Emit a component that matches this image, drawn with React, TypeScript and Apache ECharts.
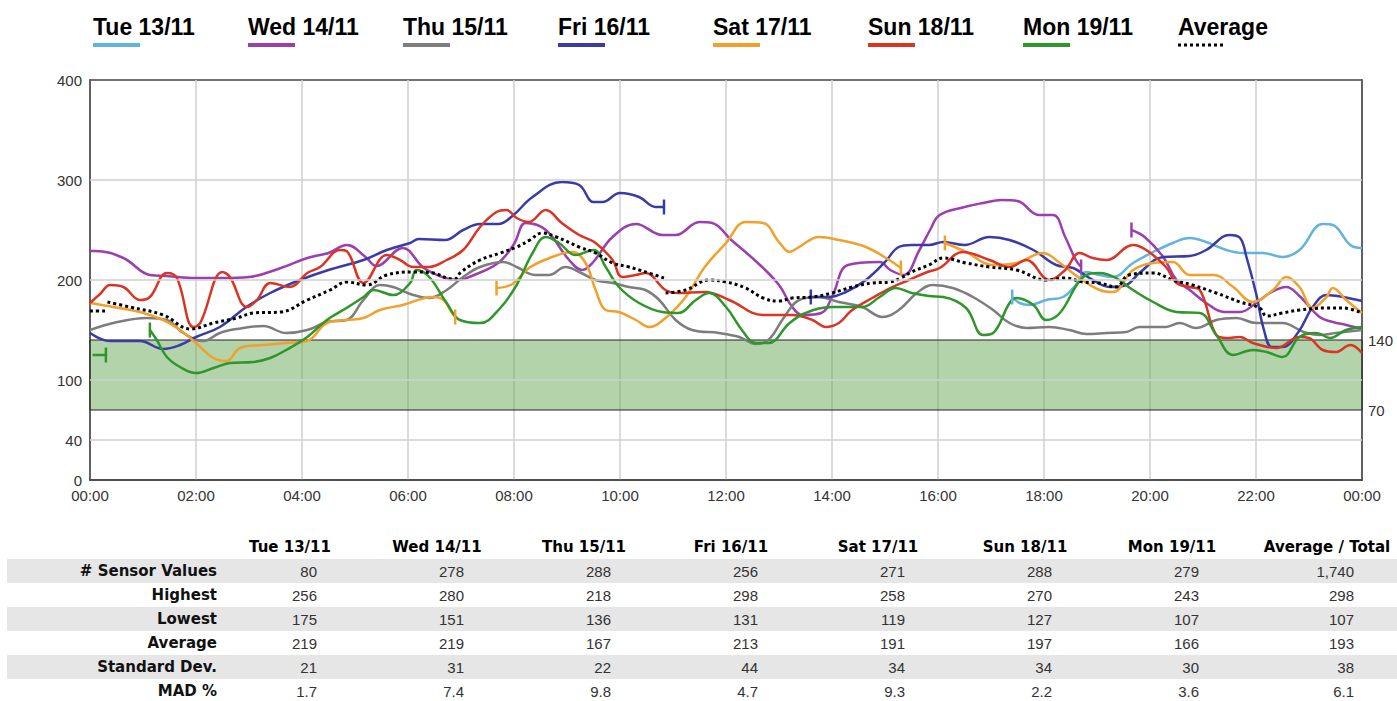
import React, { useEffect, useRef } from 'react';
import * as echarts from 'echarts';

// ---------- data ----------
const dayNames = ['Tue 13/11', 'Wed 14/11', 'Thu 15/11', 'Fri 16/11', 'Sat 17/11', 'Sun 18/11', 'Mon 19/11'];
const dayColors = ['#62b4dc', '#9c3fae', '#7d7d7d', '#3b3ba8', '#f2a02c', '#dc3424', '#2e962a'];
const averageName = 'Average';

const leftLabels = [0, 40, 100, 200, 300, 400];
const rightLabels = [70, 140];
const gridValues = [40, 100, 200, 300];
const targetRange = [70, 140];

// [hour, value]; null value = sensor gap
const tue = [[17.4, 183], [17.54, 177], [17.73, 175], [18.04, 180], [18.36, 183], [18.6, 195], [18.8, 208], [19.05, 205], [19.3, 203], [19.68, 217], [20.06, 228], [20.43, 237], [20.75, 242], [21.06, 238], [21.44, 230], [21.75, 227], [22.13, 227], [22.5, 223], [22.82, 230], [23.26, 256], [23.45, 255], [23.78, 235], [24, 232]];

const wed = [[0, 229], [0.1, 229], [0.63, 222], [1.13, 205], [1.45, 204], [2.0, 202], [2.5, 202], [3.0, 203], [3.6, 212], [4.1, 222], [4.5, 227], [4.85, 235], [5.2, 223], [5.4, 214], [5.9, 232], [6.3, 212], [6.7, 202], [6.95, 200], [7.2, 204], [7.7, 217], [8.0, 236], [8.22, 257], [8.6, 250], [9.04, 220], [9.29, 210], [9.48, 217], [9.86, 243], [10.3, 256], [10.8, 245], [11.05, 245], [11.5, 258], [11.74, 257], [12.1, 240], [12.6, 217], [13.0, 195], [13.25, 173], [13.45, 165], [13.8, 167], [14.0, 183], [14.3, 215], [14.9, 218], [15.1, 210], [15.35, 205], [15.65, 230], [15.85, 250], [16.03, 265], [16.5, 273], [16.85, 277], [17.2, 280], [17.5, 279], [17.9, 265], [18.17, 265], [18.4, 243], [18.6, 220], [18.7, 213], [19.2, null], [19.65, 250], [19.9, 243], [20.25, 223], [20.5, 200], [20.75, 190], [21.06, 177], [21.4, 168], [21.7, 168], [22.0, 177], [22.26, 187], [22.57, 193], [22.8, 185], [23.2, 163], [23.45, 158], [23.7, 155], [24, 151]];

const thu = [[0, 150], [0.44, 157], [1.07, 162], [1.45, 160], [1.76, 147], [2.14, 139], [2.45, 147], [2.77, 151], [3.27, 154], [3.7, 147], [4.1, 150], [4.47, 158], [4.84, 160], [5.16, 180], [5.47, 195], [5.72, 193], [6.1, 185], [6.4, 182], [6.73, 190], [7.04, 203], [7.36, 213], [7.8, 218], [8.05, 213], [8.4, 205], [8.66, 205], [8.97, 213], [9.23, 208], [9.54, 200], [9.86, 197], [10.17, 193], [10.48, 190], [10.74, 180], [11.05, 160], [11.36, 150], [11.87, 147], [12.25, 143], [12.56, 136], [12.8, 140], [13.1, 163], [13.38, 180], [13.75, 183], [14.13, 178], [14.57, 173], [14.95, 163], [15.26, 170], [15.6, 187], [15.9, 195], [16.28, 192], [16.66, 183], [17.04, 170], [17.35, 157], [17.67, 152], [18.1, 153], [18.48, 150], [18.8, 146], [19.18, 147], [19.55, 148], [19.8, 153], [20.3, 153], [20.56, 157], [20.87, 152], [21.25, 160], [21.63, 162], [22.0, 157], [22.5, 157], [22.9, 148], [23.2, 145], [23.5, 147], [24, 150]];

const fri = [[0, 147], [0.38, 139], [0.94, 139], [1.38, 131], [1.7, 135], [2.0, 143], [2.45, 153], [2.95, 173], [3.4, 187], [3.96, 200], [4.5, 210], [5.16, 220], [5.6, 230], [6.04, 237], [6.2, 241], [6.7, 240], [7.04, 250], [7.36, 256], [7.7, 256], [7.97, 264], [8.35, 283], [8.9, 298], [9.23, 295], [9.5, 278], [9.67, 278], [10.0, 287], [10.36, 283], [10.67, 273], [10.83, 273], [12.0, null], [13.6, 183], [13.94, 183], [14.26, 188], [14.64, 200], [15.0, 218], [15.26, 233], [15.5, 235], [15.83, 235], [16.1, 238], [16.5, 235], [16.97, 243], [17.35, 240], [17.8, 230], [18.23, 215], [18.55, 212], [18.86, 202], [19.24, 193], [19.55, 195], [19.8, 207], [20.25, 223], [20.75, 224], [21.06, 230], [21.5, 245], [21.7, 242], [21.82, 223], [22.0, 187], [22.15, 150], [22.3, 133], [22.5, 133], [22.8, 148], [23.07, 173], [23.33, 185], [23.64, 183], [24, 179]];

const sat = [[0, 177], [0.44, 173], [0.94, 168], [1.38, 160], [1.7, 150], [2.0, 137], [2.33, 122], [2.58, 119], [2.83, 132], [3.27, 135], [3.7, 137], [4.1, 139], [4.47, 157], [4.84, 160], [5.16, 162], [5.47, 170], [5.9, 175], [6.48, 183], [6.67, 180], [6.82, 168], [6.89, 163], [7.3, null], [7.67, 192], [7.97, 196], [8.28, 212], [8.72, 223], [9.1, 228], [9.35, 217], [9.54, 190], [9.73, 170], [9.98, 168], [10.3, 160], [10.55, 153], [10.86, 162], [11.24, 183], [11.6, 213], [12.0, 237], [12.37, 258], [12.7, 257], [13.0, 238], [13.2, 228], [13.38, 233], [13.75, 243], [14.13, 240], [14.64, 233], [15.08, 220], [15.3, 212], [15.7, null], [16.13, 237], [16.53, 228], [17.04, 215], [17.48, 217], [17.98, 227], [18.3, 217], [18.67, 202], [19.05, 190], [19.3, 188], [19.68, 210], [20.06, 217], [20.43, 218], [20.75, 205], [21.2, 205], [21.57, 193], [21.94, 178], [22.32, 190], [22.57, 203], [22.82, 193], [23.07, 172], [23.33, 183], [23.45, 192], [23.7, 180], [24, 167]];

const sun = [[0, 177], [0.19, 186], [0.38, 195], [0.63, 193], [0.94, 180], [1.13, 183], [1.45, 207], [1.64, 202], [1.95, 153], [2.08, 157], [2.5, 208], [2.64, 203], [2.96, 173], [3.15, 180], [3.4, 197], [3.77, 193], [4.1, 207], [4.34, 213], [4.72, 230], [4.84, 229], [5.16, 197], [5.6, 225], [5.85, 220], [6.1, 213], [6.4, 213], [6.73, 220], [7.04, 230], [7.36, 253], [7.67, 268], [7.86, 270], [8.05, 262], [8.28, 258], [8.6, 270], [8.9, 257], [9.23, 245], [9.54, 237], [9.86, 220], [10.04, 203], [10.3, 205], [10.48, 207], [10.86, 190], [11.1, 187], [11.6, 188], [12.06, 180], [12.7, 165], [13.25, 165], [13.63, 160], [13.88, 153], [14.13, 157], [14.38, 170], [14.76, 182], [15.14, 193], [15.45, 200], [15.8, 208], [16.03, 212], [16.47, 228], [16.97, 220], [17.35, 213], [17.67, 220], [18.1, 200], [18.4, 210], [18.67, 227], [18.92, 222], [19.18, 220], [19.68, 235], [19.93, 230], [20.3, 213], [20.5, 197], [20.75, 193], [20.94, 190], [21.25, 145], [21.44, 142], [21.7, 143], [21.94, 137], [22.38, 132], [22.82, 143], [23.0, 142], [23.26, 130], [23.5, 128], [23.78, 135], [24, 127]];

const mon = [[0.05, 125], [0.3, 125], [0.7, null], [1.13, 150], [1.26, 140], [1.45, 123], [1.7, 113], [2.0, 107], [2.33, 112], [2.64, 117], [3.08, 118], [3.4, 122], [3.7, 130], [4.1, 143], [4.47, 160], [4.84, 172], [5.16, 183], [5.35, 190], [5.72, 185], [6.04, 197], [6.16, 210], [6.4, 203], [6.73, 177], [6.98, 160], [7.36, 157], [7.74, 172], [8.05, 195], [8.35, 227], [8.6, 243], [8.85, 237], [9.16, 225], [9.5, 230], [9.73, 213], [9.98, 193], [10.36, 177], [10.8, 168], [11.1, 167], [11.43, 180], [11.68, 187], [12.0, 173], [12.3, 150], [12.56, 137], [12.8, 137], [13.2, 157], [13.5, 167], [14.0, 173], [14.57, 173], [14.9, 183], [15.2, 192], [15.5, 187], [15.83, 184], [16.1, 183], [16.53, 172], [16.85, 145], [17.04, 147], [17.35, 177], [17.48, 182], [17.8, 175], [18.04, 160], [18.3, 167], [18.74, 203], [19.05, 207], [19.36, 202], [19.68, 190], [20.06, 178], [20.5, 168], [20.94, 167], [21.25, 145], [21.57, 125], [21.94, 130], [22.2, 128], [22.5, 123], [22.82, 143], [23.14, 147], [23.4, 142], [23.7, 150], [24, 153]];

const avg = [[0, 169], [0.3, 169], [0.31, null], [0.33, 178], [0.75, 173], [1.38, 165], [1.9, 151], [2.33, 157], [2.77, 162], [3.08, 167], [3.6, 168], [4.1, 180], [4.53, 190], [4.84, 198], [5.22, 195], [5.6, 205], [6.1, 208], [6.48, 207], [6.73, 202], [6.88, 201], [7.0, 208], [7.36, 220], [7.74, 227], [8.05, 233], [8.3, 240], [8.53, 247], [8.8, 243], [9.23, 233], [9.54, 227], [9.86, 217], [10.17, 213], [10.48, 208], [10.83, 202], [10.84, null], [10.86, 187], [11.24, 190], [11.68, 200], [12.0, 198], [12.37, 192], [12.7, 182], [13.0, 179], [13.25, 182], [13.63, 183], [14.0, 187], [14.38, 193], [14.76, 197], [15.08, 198], [15.3, 202], [15.5, 208], [15.83, 215], [16.1, 222], [16.53, 217], [16.97, 213], [17.48, 210], [18.04, 200], [18.4, 202], [18.74, 198], [19.05, 197], [19.36, 193], [19.6, 205], [20.06, 207], [20.43, 200], [20.8, 195], [21.25, 187], [21.7, 178], [22.07, 172], [22.2, 164], [22.5, 167], [22.82, 170], [23.33, 172], [23.64, 172], [24, 167]];

const dayData = [tue, wed, thu, fri, sat, sun, mon];

// ---------- table ----------
const tableColumns = ['Tue 13/11', 'Wed 14/11', 'Thu 15/11', 'Fri 16/11', 'Sat 17/11', 'Sun 18/11', 'Mon 19/11', 'Average / Total'];
const tableRowLabels = ['# Sensor Values', 'Highest', 'Lowest', 'Average', 'Standard Dev.', 'MAD %'];
const sensorValues = ['80', '278', '288', '256', '271', '288', '279', '1,740'];
const highestValues = ['256', '280', '218', '298', '258', '270', '243', '298'];
const lowestValues = ['175', '151', '136', '131', '119', '127', '107', '107'];
const averageValues = ['219', '219', '167', '213', '191', '197', '166', '193'];
const stdDevValues = ['21', '31', '22', '44', '34', '34', '30', '38'];
const madValues = ['1.7', '7.4', '9.8', '4.7', '9.3', '2.2', '3.6', '6.1'];
const tableRows = [sensorValues, highestValues, lowestValues, averageValues, stdDevValues, madValues];

// ---------- helpers ----------
function toSeriesData(points: any[], caps: boolean) {
  return points.map((p, i) => {
    if (p[1] === null) return [p[0], '-'];
    if (!caps) return p;
    const prevGap = i === 0 ? p[0] > 0.2 : points[i - 1][1] === null;
    const nextGap = i === points.length - 1 ? p[0] < 23.8 : points[i + 1][1] === null;
    if (prevGap || nextGap) {
      return { value: p, symbol: 'rect', symbolSize: [2.5, 15] };
    }
    return p;
  });
}

const fmtHour = (h: number) => String(h % 24).padStart(2, '0') + ':00';

export default function App() {
  const ref = useRef<HTMLDivElement>(null);

  useEffect(() => {
    if (!ref.current) return;
    const chart = echarts.init(ref.current, undefined, { renderer: 'svg' });

    const series: any[] = [
      {
        name: 'grid-lines',
        type: 'line',
        data: [],
        z: 1,
        silent: true,
        markLine: {
          silent: true,
          symbol: ['none', 'none'],
          label: { show: false },
          lineStyle: { color: '#cfcfcf', width: 1.5, type: 'solid' },
          data: gridValues.map((v) => ({ yAxis: v })),
        },
      },
      {
        name: 'target',
        type: 'line',
        data: [],
        z: 1.5,
        silent: true,
        markArea: {
          silent: true,
          itemStyle: { color: 'rgba(104,168,86,0.5)', borderColor: '#222', borderWidth: 1 },
          data: [[{ yAxis: targetRange[0] }, { yAxis: targetRange[1] }]],
        },
      },
    ];

    dayNames.forEach((name, i) => {
      series.push({
        name,
        type: 'line',
        z: 3,
        smooth: 0.4,
        symbol: 'none',
        showSymbol: true,
        connectNulls: false,
        color: dayColors[i],
        itemStyle: { color: dayColors[i] },
        lineStyle: { color: dayColors[i], width: 2.5 },
        data: toSeriesData(dayData[i], true),
      });
    });

    series.push({
      name: averageName,
      type: 'line',
      z: 4,
      smooth: 0.4,
      symbol: 'none',
      showSymbol: false,
      connectNulls: false,
      color: '#000',
      lineStyle: { color: '#000', width: 3, type: [3, 3] },
      data: toSeriesData(avg, false),
    });

    const graphics: any[] = [];
    // legend
    const legendNames = [...dayNames, averageName];
    legendNames.forEach((name, i) => {
      const x = 93 + i * 155;
      graphics.push({
        type: 'text',
        x,
        y: 27,
        style: {
          text: name,
          fill: '#000',
          fontFamily: 'Liberation Sans',
          fontWeight: 'bold',
          fontSize: 23,
          align: 'left',
          verticalAlign: 'middle',
        },
      });
      if (i < dayNames.length) {
        graphics.push({ type: 'rect', shape: { x, y: 43, width: 47, height: 4 }, style: { fill: dayColors[i] } });
      } else {
        graphics.push({
          type: 'line',
          shape: { x1: x, y1: 45, x2: x + 47, y2: 45 },
          style: { stroke: '#000', lineWidth: 3, lineDash: [3, 3] },
        });
      }
    });

    // table
    const colCenters = [290, 437, 584, 731, 878, 1025, 1172, 1327];
    const headerY = 547;
    const rowY0 = 571;
    const rowH = 24;
    tableRowLabels.forEach((_, r) => {
      if (r % 2 === 0) {
        graphics.push({
          type: 'rect',
          shape: { x: 7, y: rowY0 + r * rowH - rowH / 2, width: 1390, height: rowH },
          style: { fill: '#e6e6e6' },
        });
      }
    });
    tableColumns.forEach((c, j) => {
      graphics.push({
        type: 'text',
        x: colCenters[j],
        y: headerY,
        style: {
          text: c,
          fill: '#000',
          fontFamily: 'DejaVu Sans',
          fontWeight: 'bold',
          fontSize: 15,
          align: 'center',
          verticalAlign: 'middle',
        },
      });
    });
    tableRowLabels.forEach((label, r) => {
      const y = rowY0 + r * rowH;
      graphics.push({
        type: 'text',
        x: 217,
        y,
        style: {
          text: label,
          fill: '#111',
          fontFamily: 'DejaVu Sans',
          fontWeight: 'bold',
          fontSize: 15,
          align: 'right',
          verticalAlign: 'middle',
        },
      });
      tableRows[r].forEach((val, j) => {
        graphics.push({
          type: 'text',
          x: colCenters[j] + 27,
          y,
          style: {
            text: val,
            fill: '#333',
            fontFamily: 'Liberation Sans',
            fontSize: 15,
            align: 'right',
            verticalAlign: 'middle',
          },
        });
      });
    });

    chart.setOption({
      animation: false,
      backgroundColor: '#fff',
      grid: {
        left: 90,
        right: 35,
        top: 80,
        height: 400,
        show: true,
        borderColor: '#444',
        borderWidth: 1.5,
      },
      xAxis: {
        type: 'value',
        min: 0,
        max: 24,
        interval: 2,
        axisLine: { show: true, lineStyle: { color: '#444', width: 1.5 } },
        axisTick: { show: false },
        splitLine: { show: true, lineStyle: { color: '#cfcfcf', width: 1.5 } },
        axisLabel: {
          formatter: (v: number) => fmtHour(v),
          color: '#333',
          fontSize: 15,
          fontFamily: 'Liberation Sans',
          margin: 8,
        },
      },
      yAxis: [
        {
          type: 'value',
          min: 0,
          max: 400,
          interval: 20,
          position: 'left',
          axisLine: { show: true, lineStyle: { color: '#444', width: 1.5 } },
          axisTick: { show: false },
          splitLine: { show: false },
          axisLabel: {
            formatter: (v: number) => (leftLabels.includes(v) ? String(v) : ''),
            color: '#333',
            fontSize: 15,
            fontFamily: 'Liberation Sans',
            margin: 8,
          },
        },
        {
          type: 'value',
          min: 0,
          max: 400,
          interval: 10,
          position: 'right',
          axisLine: { show: true, lineStyle: { color: '#444', width: 1.5 } },
          axisTick: { show: false },
          splitLine: { show: false },
          axisLabel: {
            formatter: (v: number) => (rightLabels.includes(v) ? String(v) : ''),
            color: '#333',
            fontSize: 15,
            fontFamily: 'Liberation Sans',
            margin: 6,
          },
        },
      ],
      graphic: { elements: graphics },
      series,
    });

    return () => chart.dispose();
  }, []);

  return (
    <div
      ref={ref}
      style={{ position: 'fixed', left: 0, top: 0, width: 1397, height: 701, background: '#fff' }}
    />
  );
}
